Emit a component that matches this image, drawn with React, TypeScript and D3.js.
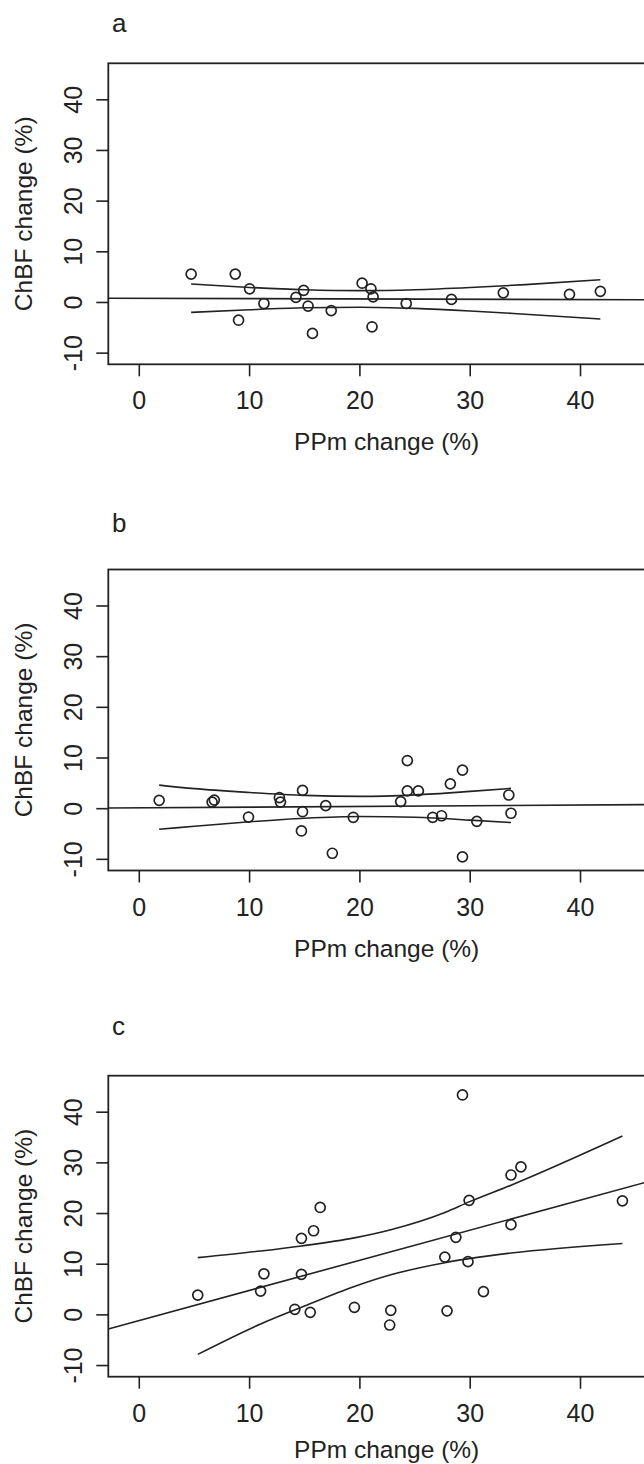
import React, { useRef, useEffect } from "react";
import * as d3 from "d3";

const xTicks = [0, 10, 20, 30, 40];
const yTicks = [-10, 0, 10, 20, 30, 40];
const panelLabels = ["a", "b", "c"];

// panel a
const aPPm = [4.7, 8.7, 10.0, 9.0, 11.3, 14.2, 14.9, 15.3, 15.7, 17.4, 20.2, 21.0, 21.2, 21.1, 24.2, 28.3, 33.0, 39.0, 41.8];
const aChBF = [5.6, 5.6, 2.7, -3.5, -0.2, 1.0, 2.4, -0.7, -6.1, -1.6, 3.8, 2.7, 1.1, -4.8, -0.2, 0.6, 1.9, 1.6, 2.2];
const aFit = [0.83, -0.0065];
const aBandX = [4.7, 10, 15, 20, 25, 30, 35, 41.8];
const aBandHi = [3.65, 2.97, 2.51, 2.33, 2.51, 2.95, 3.52, 4.5];
const aBandLo = [-1.95, -1.43, -1.05, -0.93, -1.17, -1.67, -2.32, -3.26];

// panel b
const bPPm = [1.8, 6.6, 6.8, 9.9, 12.7, 12.8, 14.8, 14.8, 14.7, 16.9, 17.5, 19.4, 23.7, 24.3, 24.3, 25.3, 26.6, 27.4, 28.2, 29.3, 29.3, 30.6, 33.5, 33.7];
const bChBF = [1.65, 1.3, 1.7, -1.65, 2.2, 1.3, 3.6, -0.6, -4.4, 0.6, -8.8, -1.7, 1.4, 9.5, 3.5, 3.5, -1.7, -1.4, 4.9, 7.6, -9.5, -2.5, 2.7, -0.9];
const bFit = [0.17, 0.0136];
const bBandX = [1.8, 5, 10, 15, 20, 25, 30, 33.7];
const bBandHi = [4.65, 3.95, 3.2, 2.62, 2.42, 2.72, 3.41, 4.0];
const bBandLo = [-4.05, -3.47, -2.58, -1.88, -1.54, -1.7, -2.25, -2.74];

// panel c
const cPPm = [5.3, 11.0, 11.3, 14.1, 14.7, 14.7, 15.5, 15.8, 16.4, 19.5, 22.8, 22.7, 27.7, 27.9, 28.7, 29.3, 29.8, 29.9, 31.2, 33.7, 33.7, 34.6, 43.8];
const cChBF = [3.9, 4.7, 8.1, 1.1, 15.1, 8.0, 0.5, 16.6, 21.2, 1.5, 0.9, -2.0, 11.4, 0.8, 15.3, 43.4, 10.5, 22.6, 4.6, 17.8, 27.6, 29.2, 22.5];
const cFit = [-1.1, 0.594];
const cBandX = [5.3, 11.0, 14.7, 19.5, 22.8, 27.7, 29.9, 33.7, 43.8];
const cBandHi = [11.3, 12.6, 13.6, 15.2, 16.8, 20.2, 22.3, 25.6, 35.3];
const cBandLo = [-7.8, -1.8, 1.5, 5.6, 7.9, 10.3, 11.1, 12.2, 14.1];

const panels = [
  { x: aPPm, y: aChBF, fit: aFit, bx: aBandX, hi: aBandHi, lo: aBandLo },
  { x: bPPm, y: bChBF, fit: bFit, bx: bBandX, hi: bBandHi, lo: bBandLo },
  { x: cPPm, y: cChBF, fit: cFit, bx: cBandX, hi: cBandHi, lo: cBandLo },
];

const width = 644;
const height = 1464;
const plotLeft = 108.3;
const plotRight = 665;
const boxH = 301;
const tops = [63.3, 569.5, 1075.7];
const letterY = [31.7, 531.7, 1035];
const ink = "#222";
const font = "'Liberation Sans', Arial, sans-serif";

const App = () => {
  const ref = useRef<SVGSVGElement>(null);

  useEffect(() => {
    const svg = d3.select(ref.current);
    svg.selectAll("*").remove();

    const xScale = d3.scaleLinear().domain([-2.81, 47.66]).range([plotLeft, plotRight]);

    panels.forEach((p, i) => {
      const top = tops[i];
      const bottom = top + boxH;
      const yScale = d3.scaleLinear().domain([-12.2, 47.2]).range([bottom, top]);
      const g = svg.append("g");

      g.append("clipPath")
        .attr("id", "clip" + i)
        .append("rect")
        .attr("x", plotLeft)
        .attr("y", top)
        .attr("width", plotRight - plotLeft)
        .attr("height", boxH);

      // panel letter
      g.append("text")
        .attr("x", 112)
        .attr("y", letterY[i])
        .attr("font-size", 26)
        .attr("font-family", font)
        .attr("fill", ink)
        .text(panelLabels[i]);

      // box
      g.append("rect")
        .attr("x", plotLeft)
        .attr("y", top)
        .attr("width", plotRight - plotLeft)
        .attr("height", boxH)
        .attr("fill", "none")
        .attr("stroke", ink)
        .attr("stroke-width", 1.8);

      // y axis
      yTicks.forEach((t) => {
        g.append("line")
          .attr("x1", plotLeft - 12)
          .attr("x2", plotLeft)
          .attr("y1", yScale(t))
          .attr("y2", yScale(t))
          .attr("stroke", ink)
          .attr("stroke-width", 1.6);
        g.append("text")
          .attr("transform", `translate(81.5,${yScale(t)}) rotate(-90)`)
          .attr("text-anchor", "middle")
          .attr("font-size", 25)
          .attr("font-family", font)
          .attr("fill", ink)
          .text(t < 0 ? "-" + Math.abs(t) : String(t));
      });
      g.append("text")
        .attr("transform", `translate(31.5,${(top + bottom) / 2}) rotate(-90)`)
        .attr("text-anchor", "middle")
        .attr("font-size", 24.5)
        .attr("font-family", font)
        .attr("fill", ink)
        .text("ChBF change (%)");

      // x axis
      xTicks.forEach((t) => {
        g.append("line")
          .attr("x1", xScale(t))
          .attr("x2", xScale(t))
          .attr("y1", bottom)
          .attr("y2", bottom + 12)
          .attr("stroke", ink)
          .attr("stroke-width", 1.6);
        g.append("text")
          .attr("x", xScale(t))
          .attr("y", bottom + 45)
          .attr("text-anchor", "middle")
          .attr("font-size", 25)
          .attr("font-family", font)
          .attr("fill", ink)
          .text(String(t));
      });
      // keep the last title's descenders inside the page
      g.append("text")
        .attr("x", (plotLeft + plotRight) / 2)
        .attr("y", Math.min(bottom + 86, height - 6))
        .attr("text-anchor", "middle")
        .attr("font-size", 24.5)
        .attr("font-family", font)
        .attr("fill", ink)
        .text("PPm change (%)");

      const inner = g.append("g").attr("clip-path", `url(#clip${i})`);

      // fitted line across the plot
      const [x0, x1] = xScale.domain();
      inner
        .append("line")
        .attr("x1", xScale(x0))
        .attr("x2", xScale(x1))
        .attr("y1", yScale(p.fit[0] + p.fit[1] * x0))
        .attr("y2", yScale(p.fit[0] + p.fit[1] * x1))
        .attr("stroke", ink)
        .attr("stroke-width", 1.6);

      // confidence band
      const band = d3
        .line<number>()
        .x((d, j) => xScale(p.bx[j]))
        .y((d) => yScale(d))
        .curve(d3.curveMonotoneX);
      [p.hi, p.lo].forEach((arr) => {
        inner
          .append("path")
          .attr("d", band(arr))
          .attr("fill", "none")
          .attr("stroke", ink)
          .attr("stroke-width", 1.6);
      });

      // points
      inner
        .selectAll(".dot")
        .data(p.x)
        .enter()
        .append("circle")
        .attr("cx", (d) => xScale(d))
        .attr("cy", (d, j) => yScale(p.y[j]))
        .attr("r", 5)
        .attr("fill", "none")
        .attr("stroke", ink)
        .attr("stroke-width", 1.7);
    });
  }, []);

  return (
    <svg
      ref={ref}
      width={width}
      height={height}
      style={{ position: "absolute", left: 0, top: 0, background: "#fff" }}
    ></svg>
  );
};

export default App;
